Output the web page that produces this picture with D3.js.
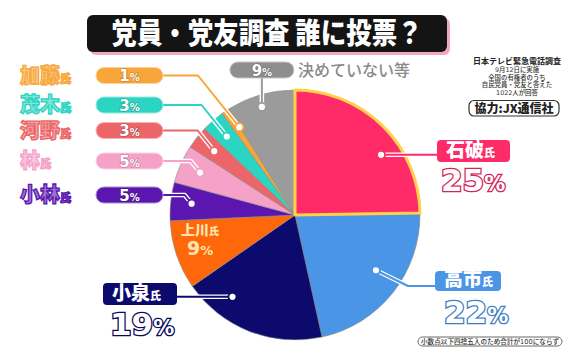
<!DOCTYPE html>
<html><head><meta charset="utf-8">
<script src="https://cdn.jsdelivr.net/npm/d3@7"></script>
<style>
html,body{margin:0;padding:0;background:#fff;}
svg{display:block;font-family:"Noto Sans CJK JP","Noto Sans",sans-serif;}
</style></head>
<body>
<svg id="c" width="581" height="364"></svg>
<script>
// ---- data ----
const names  = ["石破","高市","小泉","上川","小林","林","河野","茂木","加藤","決めていない等"];
const values = [25, 22, 19, 9, 5, 5, 3, 3, 1, 9];
const colors = ["#ff2b68","#4a95e6","#0c0b6d","#ff680a","#5a16ae","#f6a2c8","#ec6669","#2cd5c2","#f8a63a","#9b9b9b"];
const title = "党員・党友調査 誰に投票？";
const noteLines = ["9月12日に実施","全国の有権者のうち","自民党員・党友と答えた","1022人が回答"];
const noteHead = "日本テレビ緊急電話調査";
const credit = "協力:JX通信社";
const footnote = "小数点以下四捨五入のため合計が100にならず";
const suffix = "氏";

// ---- layout ----
const cx = 295, cy = 215, R = 125;
const legendOrder = [8,7,6,5,4];
const legendRowY = [75.5, 105, 130.5, 161, 195];
const dotShift = [10.5,-4,16,0,0,0,0,0,1.5,-1];
const dotR =     [105, 98, 103,104,104,104,103,104,104,113];
const numFont = "'DejaVu Sans','Noto Sans',sans-serif";
const smallFont = "'DejaVu Sans','Noto Sans CJK JP',sans-serif";

const svg = d3.select("#c");

// title
const tg = svg.append("g");
tg.append("rect").attr("x",90).attr("y",18).attr("width",360).attr("height",37).attr("rx",6).attr("fill","#f3a6c4");
tg.append("rect").attr("x",87).attr("y",15).attr("width",360).attr("height",37).attr("rx",6).attr("fill","#141414");
tg.append("text").attr("x",267).attr("y",44).attr("text-anchor","middle")
  .attr("font-size",29).attr("font-weight",900).attr("fill","#fff")
  .attr("textLength",311).attr("lengthAdjust","spacingAndGlyphs").text(title);

// pie
const pie = d3.pie().sort(null).value(d=>d)(values);
const arc = d3.arc().innerRadius(0).outerRadius(R);
const pg = svg.append("g").attr("transform",`translate(${cx},${cy})`);
pg.selectAll("path.s").data(pie).enter().append("path").attr("class","s")
  .attr("d",arc).attr("fill",(d,i)=>colors[i]).attr("stroke","#8a8a8a").attr("stroke-width",0.6);
pg.append("path").attr("d",arc(pie[0])).attr("fill","none").attr("stroke","#ffd24a").attr("stroke-width",3).attr("stroke-linejoin","round");

function dotPos(i){
  const a = ((pie[i].startAngle+pie[i].endAngle)/2) + dotShift[i]*Math.PI/180;
  return [cx + dotR[i]*Math.sin(a), cy - dotR[i]*Math.cos(a)];
}
const lineG = svg.append("g");
function leader(pts, col){
  const l = d3.line();
  lineG.append("path").attr("d",l(pts)).attr("fill","none").attr("stroke","#fff").attr("stroke-width",4.5).attr("stroke-linejoin","round");
  lineG.append("path").attr("d",l(pts)).attr("fill","none").attr("stroke",col).attr("stroke-width",2).attr("stroke-linejoin","round");
  const p = pts[pts.length-1];
  lineG.append("circle").attr("cx",p[0]).attr("cy",p[1]).attr("r",4).attr("fill","#fff").attr("stroke",col).attr("stroke-width",1.8);
}
function pctPill(x, y, w, col, v){
  svg.append("rect").attr("x",x).attr("y",y-8).attr("width",w).attr("height",16).attr("rx",8)
    .attr("fill",col).attr("stroke",d3.interpolateRgb(col,"#fff")(0.5)).attr("stroke-width",1);
  const t = svg.append("text").attr("x",x+w/2).attr("y",y+5.5).attr("text-anchor","middle")
    .attr("fill","#fff").attr("font-weight",700).attr("font-family",numFont)
    .attr("stroke",d3.color(col).darker(0.8)).attr("stroke-width",1.2).attr("paint-order","stroke");
  t.append("tspan").attr("font-size",15).text(v);
  t.append("tspan").attr("font-size",10).text("%");
}

// left legend
legendOrder.forEach((idx,k)=>{
  const y = legendRowY[k], col = colors[idx];
  const d = dotPos(idx);
  const ex = d[0] - Math.abs(d[1]-y)*0.8;
  leader([[160,y],[ex,y],d], col);
  pctPill(96, y, 67, col, values[idx]);
  const n = svg.append("text").attr("x",20).attr("y",y+7).attr("font-weight",900).attr("font-family",smallFont)
    .attr("fill",d3.interpolateRgb(col,"#fff")(0.4)).attr("stroke",col).attr("stroke-width",1.3);
  n.append("tspan").attr("font-size",20).text(names[idx]);
  n.append("tspan").attr("font-size",11).text(suffix);
});

// gray "undecided"
{
  const i = 9, col = colors[i], d = dotPos(i);
  leader([[d[0],72],d], col);
  pctPill(d[0]-32, 70, 64, "#8e8e8e", values[i]);
  svg.append("text").attr("x",298).attr("y",76).attr("font-size",16).attr("font-weight",500).attr("fill","#8a8a8a").text(names[i]);
}

// big labels
function bigLabel(i, bx, by, bw, bh, px, py){
  const col = colors[i];
  svg.append("rect").attr("x",bx).attr("y",by).attr("width",bw).attr("height",bh).attr("rx",4).attr("fill",col);
  const n = svg.append("text").attr("x",bx+9).attr("y",by+bh-5).attr("fill","#fff").attr("font-weight",900)
    .attr("font-family",smallFont);
  n.append("tspan").attr("font-size",19).text(names[i]);
  n.append("tspan").attr("font-size",11).text(suffix);
  const p = svg.append("text").attr("x",px).attr("y",py).attr("fill","#fff").attr("font-weight",700)
    .attr("stroke",d3.color(col).darker(0.5)).attr("stroke-width",2.6).attr("paint-order","stroke")
    .attr("font-family",numFont);
  p.append("tspan").attr("font-size",31).text(values[i]);
  p.append("tspan").attr("font-size",21).text("%");
}
{ const d = dotPos(0); leader([[440,d[1]],d], colors[0]); }
bigLabel(0, 437, 140, 73, 22, 441, 191);
{ const d = dotPos(1); leader([[440,286],[408,286],d], colors[1]); }
bigLabel(1, 435, 271, 66, 20, 444, 323);
{ const d = dotPos(2); leader([[174,d[1]],d], colors[2]); }
bigLabel(2, 103, 283, 74, 22, 110, 335);

// 上川 inside slice
{
  const t1 = svg.append("text").attr("x",181).attr("y",235).attr("fill","#ffe6b0").attr("font-weight",900);
  t1.append("tspan").attr("font-size",14).text(names[3]);
  t1.append("tspan").attr("font-size",10).text(suffix);
  const t2 = svg.append("text").attr("x",187).attr("y",255).attr("fill","#ffe6b0").attr("font-weight",700)
    .attr("font-family",numFont);
  t2.append("tspan").attr("font-size",19).text(values[3]);
  t2.append("tspan").attr("font-size",13).text("%");
}

// notes top right
svg.append("text").attr("x",517).attr("y",64).attr("text-anchor","middle").attr("font-size",8).attr("font-weight",700)
  .attr("font-family",smallFont).attr("fill","#222").text(noteHead);
noteLines.forEach((s,k)=>{
  svg.append("text").attr("x",517).attr("y",72+k*7.6).attr("text-anchor","middle").attr("font-size",6.4).attr("font-weight",500)
    .attr("font-family",smallFont).attr("fill","#333").text(s);
});
svg.append("rect").attr("x",469).attr("y",100.5).attr("width",90).attr("height",15.5).attr("rx",5).attr("fill","#fff").attr("stroke","#333").attr("stroke-width",1.2);
svg.append("text").attr("x",514).attr("y",112.5).attr("text-anchor","middle").attr("font-size",12).attr("font-weight",900).attr("fill","#222").text(credit);

// footnote
svg.append("rect").attr("x",418).attr("y",337).attr("width",144).attr("height",9).attr("rx",4.5).attr("fill","#fff").attr("stroke","#444").attr("stroke-width",0.8);
svg.append("text").attr("x",490).attr("y",344.3).attr("text-anchor","middle").attr("font-size",6.6).attr("font-weight",500).attr("fill","#333")
  .attr("font-family",smallFont).attr("textLength",138).attr("lengthAdjust","spacingAndGlyphs").text(footnote);
</script>
</body></html>
